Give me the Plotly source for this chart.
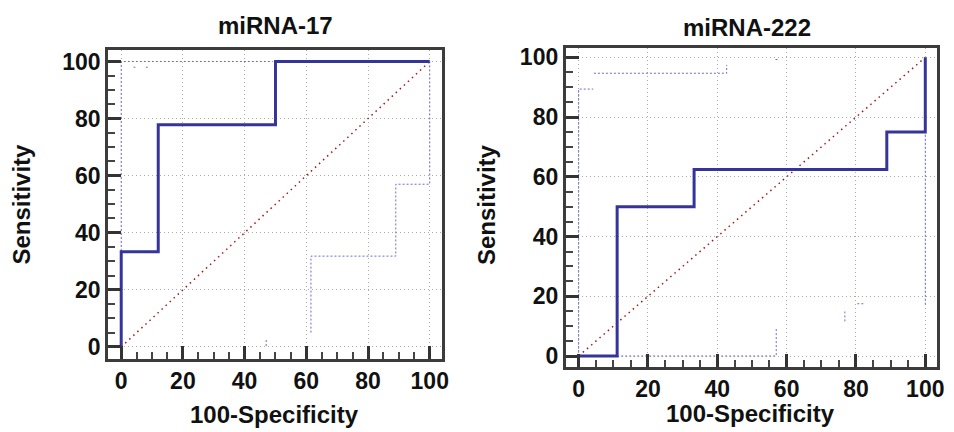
import plotly.graph_objects as go

# ---------------- data ----------------
# miRNA-17 ROC (step points, drawn with hv shape)
fpr_17 = [0, 0, 12, 50, 100]
sens_17 = [0, 33.3, 77.8, 100, 100]
# miRNA-222 ROC
fpr_222 = [0, 11.1, 33.3, 88.9, 100, 100]
sens_222 = [0, 50, 62.5, 75, 75, 100]

# faint confidence-bound traces (None separates pieces)
ci17_x = [0, 0, 49, None, 4, 4.6, None, 8, 8.6, None, 47, 47, None,
          61.5, 61.5, 89, 89, 100, 100]
ci17_y = [0, 100, 100, None, 98, 98, None, 98, 98, None, 0.3, 3, None,
          5, 31.8, 31.8, 57, 57, 100]
ci222_x = [0, 0, 4.2, None, 4.4, 42.7, 42.7, None, 56.8, 57.4, None,
           11.1, 57, 57, None, 76.8, 76.8, None, 80.4, 82.3, None, 100, 100]
ci222_y = [0, 89.4, 89.4, None, 94.7, 94.7, 97.5, None, 99.3, 99.3, None,
           0, 0, 9.5, None, 11.6, 14.9, None, 17.5, 17.5, None, 17.2, 75]

diag = [0, 100]
ticks = [0, 20, 40, 60, 80, 100]
titles = ["miRNA-17", "miRNA-222"]
xlabel = "100-Specificity"
ylabel = "Sensitivity"

# ---------------- figure ----------------
OFF = 8  # page body margin
W, H = 954 - OFF, 432 - OFF
FONT = "Liberation Sans, Arial, sans-serif"
ROC_C = "#34349a"
CI_C = "#6c6cd0"
DIAG_C = "#a01818"


def px_x(p):
    return (p - OFF) / W


def px_y(p):
    return 1 - (p - OFF) / H


fig = go.Figure()

for i, (fx, sy, cx, cy) in enumerate([(fpr_17, sens_17, ci17_x, ci17_y),
                                      (fpr_222, sens_222, ci222_x, ci222_y)]):
    xa = "x" if i == 0 else "x2"
    ya = "y" if i == 0 else "y2"
    fig.add_trace(go.Scatter(x=cx, y=cy, mode="lines", xaxis=xa, yaxis=ya,
                             line=dict(color=CI_C, width=1, dash="2px,2px"),
                             hoverinfo="skip", showlegend=False))
    fig.add_trace(go.Scatter(x=diag, y=diag, mode="lines", xaxis=xa, yaxis=ya,
                             line=dict(color=DIAG_C, width=1.5, dash="1.5px,4px"),
                             showlegend=False))
    fig.add_trace(go.Scatter(x=fx, y=sy, mode="lines", xaxis=xa, yaxis=ya,
                             line=dict(color=ROC_C, width=3, shape="hv"),
                             showlegend=False))

axis_common = dict(
    tickmode="array", tickvals=ticks, ticktext=[str(t) for t in ticks],
    ticks="inside", ticklen=13, tickwidth=3, tickcolor="#333333",
    showline=True, linewidth=3, linecolor="#3c3c3c", mirror=True,
    showgrid=True, gridcolor="#aaaaaa", gridwidth=1, griddash="1px,3px",
    zeroline=False,
    tickfont=dict(family=FONT, size=23, color="#111111", weight="bold"),
    minor=dict(ticks="inside", dtick=5, ticklen=7, tickwidth=1.5,
               tickcolor="#444444", showgrid=False),
)

fig.update_layout(
    width=W, height=H,
    margin=dict(l=0, r=0, t=0, b=0),
    paper_bgcolor="white", plot_bgcolor="white",
    xaxis=dict(axis_common, domain=[px_x(109), px_x(445)], range=[-4.2, 103.9],
               anchor="y"),
    yaxis=dict(axis_common, domain=[px_y(360), px_y(47)], range=[-4.2, 104.2],
               anchor="x"),
    xaxis2=dict(axis_common, domain=[px_x(570), px_x(944)], range=[-3.7, 103.4],
                anchor="y2"),
    yaxis2=dict(axis_common, domain=[px_y(368), px_y(45)], range=[-3.6, 103.3],
                anchor="x2"),
)

ann = [
    (277, 23, titles[0], 0, 24), (753, 25, titles[1], 0, 24),
    (276, 416, xlabel, 0, 24), (756, 415, xlabel, 0, 24),
    (22, 203, ylabel, -90, 24), (490, 204, ylabel, -90, 24),
]
for px, py, txt, rot, fs in ann:
    fig.add_annotation(x=px_x(px), y=px_y(py), xref="paper", yref="paper",
                       text=txt, showarrow=False, textangle=rot,
                       xanchor="center", yanchor="middle",
                       font=dict(family=FONT, size=fs, color="#111111",
                                 weight="bold"))

fig.write_html("out.html")
